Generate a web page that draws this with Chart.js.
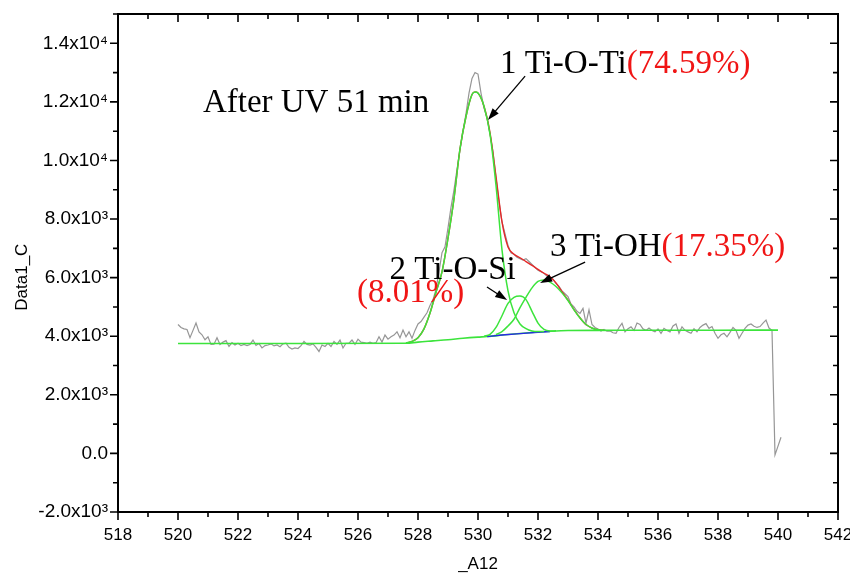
<!DOCTYPE html>
<html>
<head>
<meta charset="utf-8">
<script src="https://cdn.jsdelivr.net/npm/chart.js@4.4.0/dist/chart.umd.min.js"></script>
<style>
body { margin: 0; background: #fff; }
</style>
</head>
<body>
<canvas id="xpsChart" width="850" height="576"></canvas>
<script>
// measured spectrum, 520.0 .. 540.1 eV, one value every 0.1 eV
var rawStart = 520.0;
var rawStep = 0.1;
var rawCounts = [
  4400, 4300, 4250, 4230, 3950, 4200, 4450, 4150, 4050, 3880,
  3980, 3720, 3730, 3950, 3720, 3800, 3850, 3650, 3780, 3700,
  3760, 3680, 3720, 3680, 3720, 3870, 3690, 3750, 3600, 3680,
  3700, 3740, 3670, 3700, 3640, 3740, 3760, 3620, 3560, 3600,
  3580, 3680, 3820, 3720, 3700, 3740, 3620, 3480, 3700, 3650,
  3760, 3650, 3820, 3720, 3870, 3600, 3760, 3760, 3870, 3720,
  3900, 3800, 3780, 3760, 3800, 3760, 3780, 3980, 3800, 4040,
  3900, 3980, 4040, 4150, 3950, 4210, 3980, 4150, 3930, 4200,
  4420, 4500, 4650, 4800, 5050, 5250, 5600, 6200, 6850, 7050,
  7700, 8400, 9000, 9700, 10350, 11000, 11600, 12300, 12800, 13000,
  12950, 12300, 11800, 11450, 10900, 10300, 9400, 8600, 7900, 7500,
  7100, 6850, 6800, 6700, 6650, 6600, 6650, 6550, 6450, 6350,
  6250, 6200, 6150, 6050, 6000, 5950, 5800, 5700, 5550, 5450,
  5350, 5100, 5000, 4850, 4780, 4950, 4450, 4900, 4400, 4300,
  4250, 4180, 4230, 4170, 4180, 4120, 4100, 4300, 4440, 4150,
  4260, 4320, 4200, 4450, 4400, 4250, 4200, 4280, 4200, 4150,
  4250, 4100, 4270, 4200, 4150, 4350, 4420, 4100, 4320, 4200,
  4150, 4100, 4260, 4150, 4300, 4380, 4430, 4270, 4330, 4100,
  3930, 4050, 4100, 3980, 4130, 4300, 4200, 3930, 4100, 4270,
  4380, 4420, 4340, 4300, 4330, 4450, 4550, 4280, 4200, -50,
  250, 550
];

var envelopeEnergy = [527.6, 527.8, 528.0, 528.2, 528.4, 528.6, 528.8, 529.0, 529.2, 529.4, 529.6, 529.8, 529.9, 530.0, 530.2, 530.4, 530.6, 530.8, 531.0, 531.2, 531.4, 531.6, 531.8, 532.0, 532.2, 532.4, 532.6, 532.8, 533.0, 533.2, 533.4, 533.6, 533.8, 534.0, 534.2];
var envelopeCounts = [3770, 3820, 3950, 4250, 4790, 5500, 6200, 7350, 8700, 10400, 11500, 12250, 12340, 12300, 11850, 10950, 9450, 7900, 7050, 6800, 6680, 6550, 6420, 6280, 6150, 6030, 5820, 5520, 5230, 4910, 4630, 4400, 4280, 4220, 4200];

var baselineEnergy = [520.0, 524.0, 527.6, 528.0, 528.5, 529.0, 529.5, 530.0, 530.3, 531.0, 531.6, 532.3, 533.0, 534.0, 536.0, 538.0, 540.0];
var baselineCounts = [3750, 3750, 3760, 3800, 3840, 3880, 3930, 3970, 3990, 4060, 4110, 4160, 4195, 4200, 4205, 4205, 4210];

var shirleyEnergy = [530.3, 530.8, 531.4, 532.0, 532.4];
var shirleyCounts = [3985, 4040, 4090, 4135, 4160];

var peak1Energy = [527.6, 527.8, 528.0, 528.2, 528.4, 528.6, 528.8, 529.0, 529.2, 529.4, 529.6, 529.8, 529.9, 530.0, 530.2, 530.4, 530.6, 530.8, 531.0, 531.2, 531.4, 531.6, 531.8, 532.0, 532.2];
var peak1Counts = [3770, 3820, 3950, 4250, 4790, 5500, 6200, 7350, 8700, 10400, 11500, 12250, 12340, 12300, 11850, 10900, 9150, 6950, 5550, 4800, 4420, 4260, 4180, 4160, 4165];

var peak2Energy = [530.2, 530.4, 530.6, 530.8, 531.0, 531.2, 531.4, 531.6, 531.8, 532.0, 532.2, 532.4, 532.6];
var peak2Counts = [4000, 4060, 4300, 4700, 5120, 5330, 5370, 5250, 4850, 4450, 4230, 4180, 4185];

var peak3Energy = [530.6, 530.8, 531.0, 531.2, 531.4, 531.6, 531.8, 532.0, 532.2, 532.4, 532.6, 532.8, 533.0, 533.2, 533.4, 533.6, 533.8, 534.0, 534.2];
var peak3Counts = [4060, 4160, 4350, 4580, 4980, 5330, 5650, 5870, 5920, 5850, 5700, 5480, 5220, 4900, 4620, 4400, 4280, 4220, 4200];

var xTicks = [518, 520, 522, 524, 526, 528, 530, 532, 534, 536, 538, 540, 542];
var yTicks = [-2000, 0, 2000, 4000, 6000, 8000, 10000, 12000, 14000];
var yTickLabels = ['-2.0x10\u00b3', '0.0', '2.0x10\u00b3', '4.0x10\u00b3', '6.0x10\u00b3', '8.0x10\u00b3', '1.0x10\u2074', '1.2x10\u2074', '1.4x10\u2074'];

// text on the plot, placed in data units
var notes = [
  { x: 520.83, y: 11650, parts: [['After UV 51 min', '#000']] },
  { x: 530.73, y: 13000, parts: [['1 Ti-O-Ti', '#000'], ['(74.59%)', '#f01515']] },
  { x: 532.40, y: 6740, parts: [['3 Ti-OH', '#000'], ['(17.35%)', '#f01515']] },
  { x: 527.05, y: 5950, parts: [['2 Ti-O-Si', '#000']] },
  { x: 525.97, y: 5170, parts: [['(8.01%)', '#f01515']] }
];
var arrows = [
  { from: [531.57, 12880], to: [530.33, 11380] },
  { from: [533.57, 6530], to: [532.07, 5816] },
  { from: [530.30, 5680], to: [530.97, 5235] }
];

var green = 'rgb(60,228,60)';

function pts(xs, ys) {
  return xs.map(function (x, i) { return { x: x, y: ys[i] }; });
}
var rawPoints = rawCounts.map(function (v, i) {
  return { x: +(rawStart + i * rawStep).toFixed(1), y: v };
});

var frame = {
  id: 'frame',
  afterDraw: function (chart) {
    var c = chart.ctx, a = chart.chartArea;
    var xs = chart.scales.x, ys = chart.scales.y;
    c.save();
    c.strokeStyle = '#000';
    c.lineWidth = 2;
    c.beginPath();
    c.moveTo(a.left, a.top);
    c.lineTo(a.right, a.top);
    c.lineTo(a.right, a.bottom);
    c.stroke();

    c.lineWidth = 1.6;
    c.beginPath();
    for (var v = 518; v <= 542; v += 1) {
      var px = xs.getPixelForValue(v);
      var l = (v % 2 === 0) ? 8 : 5;
      c.moveTo(px, a.bottom); c.lineTo(px, a.bottom + l);
      c.moveTo(px, a.top); c.lineTo(px, a.top + l);
    }
    for (var w = -2000; w <= 15000; w += 1000) {
      var py = ys.getPixelForValue(w);
      var l2 = (w % 2000 === 0) ? 8 : 5;
      c.moveTo(a.left - l2, py); c.lineTo(a.left, py);
      c.moveTo(a.right - l2, py); c.lineTo(a.right, py);
    }
    c.stroke();

    // arrows
    c.lineWidth = 1.3;
    c.fillStyle = '#000';
    arrows.forEach(function (ar) {
      var x1 = xs.getPixelForValue(ar.from[0]), y1 = ys.getPixelForValue(ar.from[1]);
      var x2 = xs.getPixelForValue(ar.to[0]), y2 = ys.getPixelForValue(ar.to[1]);
      var ang = Math.atan2(y2 - y1, x2 - x1);
      c.beginPath();
      c.moveTo(x1, y1);
      c.lineTo(x2 - 8 * Math.cos(ang), y2 - 8 * Math.sin(ang));
      c.stroke();
      c.beginPath();
      c.moveTo(x2, y2);
      c.lineTo(x2 - 12 * Math.cos(ang) + 4 * Math.sin(ang), y2 - 12 * Math.sin(ang) - 4 * Math.cos(ang));
      c.lineTo(x2 - 12 * Math.cos(ang) - 4 * Math.sin(ang), y2 - 12 * Math.sin(ang) + 4 * Math.cos(ang));
      c.closePath();
      c.fill();
    });

    // labels
    c.font = '33px "Liberation Serif", "Times New Roman", serif';
    c.textBaseline = 'alphabetic';
    c.textAlign = 'left';
    notes.forEach(function (n) {
      var tx = xs.getPixelForValue(n.x), ty = ys.getPixelForValue(n.y);
      n.parts.forEach(function (p) {
        c.fillStyle = p[1];
        c.fillText(p[0], tx, ty);
        tx += c.measureText(p[0]).width;
      });
    });
    c.restore();
  }
};

var sans = { family: '"Liberation Sans", Arial, sans-serif', size: 17 };
var sansY = { family: '"Liberation Sans", Arial, sans-serif', size: 19 };

new Chart(document.getElementById('xpsChart').getContext('2d'), {
  type: 'line',
  data: {
    datasets: [
      { data: rawPoints, borderColor: 'rgb(150,150,150)', borderWidth: 1.2, order: 6 },
      { data: pts(envelopeEnergy, envelopeCounts), borderColor: 'rgb(228,40,40)', borderWidth: 1.4, cubicInterpolationMode: 'monotone', order: 5 },
      { data: pts(baselineEnergy, baselineCounts), borderColor: green, borderWidth: 1.6, cubicInterpolationMode: 'monotone', order: 4 },
      { data: pts(shirleyEnergy, shirleyCounts), borderColor: 'rgb(40,40,230)', borderWidth: 1.4, order: 3 },
      { data: pts(peak1Energy, peak1Counts), borderColor: green, borderWidth: 1.5, cubicInterpolationMode: 'monotone', order: 2 },
      { data: pts(peak2Energy, peak2Counts), borderColor: green, borderWidth: 1.5, cubicInterpolationMode: 'monotone', order: 1 },
      { data: pts(peak3Energy, peak3Counts), borderColor: green, borderWidth: 1.5, cubicInterpolationMode: 'monotone', order: 0 }
    ]
  },
  options: {
    responsive: false,
    animation: false,
    layout: { padding: { top: 14, right: 12, left: 0, bottom: 0 } },
    elements: { point: { radius: 0 }, line: { fill: false } },
    plugins: { legend: { display: false }, tooltip: { enabled: false } },
    scales: {
      x: {
        type: 'linear', min: 518, max: 542,
        afterBuildTicks: function (s) { s.ticks = xTicks.map(function (v) { return { value: v }; }); },
        afterFit: function (s) { s.height = 64; s.paddingLeft = 0; s.paddingRight = 0; },
        ticks: { font: sans, color: '#000', padding: 13, maxRotation: 0, autoSkip: false },
        grid: { display: false, drawTicks: false },
        border: { display: true, color: '#000', width: 2 },
        title: { display: true, text: '_A12', font: sans, color: '#000', padding: { top: 0, bottom: 1 } }
      },
      y: {
        type: 'linear', min: -2000, max: 15000,
        afterBuildTicks: function (s) { s.ticks = yTicks.map(function (v) { return { value: v }; }); },
        afterFit: function (s) { s.width = 118; s.paddingTop = 0; s.paddingBottom = 0; },
        ticks: {
          font: sansY, color: '#000', padding: 10, autoSkip: false,
          callback: function (v) { return yTickLabels[yTicks.indexOf(v)]; }
        },
        grid: { display: false, drawTicks: false },
        border: { display: true, color: '#000', width: 2 },
        title: { display: true, text: 'Data1_C      ', font: sans, color: '#000', padding: { top: 12, bottom: 0 } }
      }
    }
  },
  plugins: [frame]
});
</script>
</body>
</html>
